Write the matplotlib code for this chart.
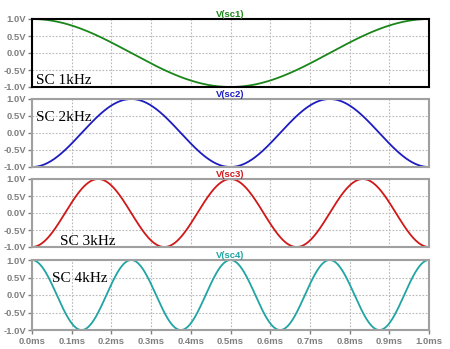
import numpy as np
import matplotlib.pyplot as plt

# signal definitions: node name, frequency (kHz), starting sign, colour, note
nodes = ["sc1", "sc2", "sc3", "sc4"]
freqs_khz = [1, 2, 3, 4]
start_sign = [1, -1, -1, 1]
colors = ["#1a861a", "#1c1cc0", "#d01818", "#20a4a4"]
notes = ["SC 1kHz", "SC 2kHz", "SC 3kHz", "SC 4kHz"]
note_pos = [(0.01, 0.0), (0.01, 0.63), (0.07, -0.02), (0.05, 0.64)]

xticks = np.arange(0, 1.01, 0.1)
xlabels = ["%.1fms" % v for v in xticks]
yticks = [-1.0, -0.5, 0.0, 0.5, 1.0]
ylabels = ["%.1fV" % v for v in yticks]

W, H = 450, 349
fig = plt.figure(figsize=(W / 100, H / 100), dpi=100)

# panel boxes in pixels: top, bottom
boxes = [(19, 87), (99, 167), (179, 247), (260, 330)]
left, right = 32, 429

t = np.linspace(0, 1.0, 1000)  # ms
grey = "#808080"

for i, (top, bot) in enumerate(boxes):
    ax = fig.add_axes([left / W, 1 - bot / H, (right - left) / W, (bot - top) / H])
    v = start_sign[i] * np.cos(2 * np.pi * freqs_khz[i] * t)
    ax.plot(t, v, color=colors[i], lw=1.3)
    ax.set_xlim(0, 1.0)
    ax.set_ylim(-1.0, 1.0)
    ax.set_xticks(xticks)
    ax.set_yticks(yticks)
    ax.set_yticklabels(ylabels, fontsize=6.8, color=grey, fontweight="bold",
                       family="Liberation Sans")
    if i == 3:
        ax.set_xticklabels(xlabels, fontsize=6.8, color=grey, fontweight="bold",
                           family="Liberation Sans")
        ax.tick_params(axis="x", length=3, width=1, color=grey, pad=2)
    else:
        ax.tick_params(axis="x", length=0, labelbottom=False)
    ax.tick_params(axis="y", length=3, width=1, color=grey, pad=1)
    ax.grid(True, color="#b8b8b8", linestyle=(0, (1.5, 1.5)), lw=0.8)
    edge = "black" if i == 0 else "#a0a0a0"
    for s in ax.spines.values():
        s.set_color(edge)
        s.set_linewidth(1.5)
    ax.set_title("V(%s)" % nodes[i], color=colors[i], fontsize=6.8,
                 fontweight="bold", family="Liberation Sans", pad=1.5)
    ax.text(note_pos[i][0], note_pos[i][1], notes[i], transform=ax.transAxes,
            family="Liberation Serif", fontsize=11, color="black", va="bottom")

fig.savefig("out.png", dpi=100)
